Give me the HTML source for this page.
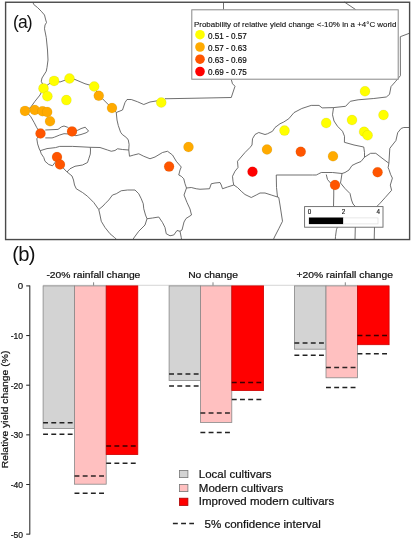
<!DOCTYPE html>
<html><head><meta charset="utf-8"><style>
html,body{margin:0;padding:0;background:#fff;}
body{width:412px;height:540px;overflow:hidden;font-family:"Liberation Sans",sans-serif;}
svg{display:block;}
svg{will-change:transform;}
text{font-family:"Liberation Sans",sans-serif;fill:#111;}
.bt text, text.bt{stroke:#111;stroke-width:0.22px;}
.dash{stroke:#222;stroke-width:1.5;stroke-dasharray:4.9 3.3;}
</style></head><body>
<svg width="412" height="540" viewBox="0 0 412 540">
<!-- map panel (a) -->
<g fill="none" stroke="#555" stroke-width="0.85" stroke-linejoin="round">
<polyline points="33.00,2.50 33.75,4.50 37.50,7.50 41.25,11.25 44.50,15.00 45.75,20.00 46.50,22.50 45.00,25.00 44.50,28.75 46.25,37.50 47.50,50.00 48.00,60.00 47.00,67.50 46.25,71.25 42.00,78.00 41.25,81.25 43.00,85.00 43.50,88.00 40.00,95.00 35.00,101.25 30.50,107.50 25.00,111.00 28.00,113.50 30.80,116.70 34.20,122.60 36.80,127.70 40.50,133.50 36.80,138.80 37.60,143.90 39.30,149.00 40.20,150.70 41.25,153.75 43.75,157.50 45.00,161.25 48.75,164.50 52.50,165.75 57.00,160.00 60.00,164.50 66.25,171.25 72.00,176.00 73.50,180.00 74.50,185.00 76.25,188.75 82.50,192.50 87.50,196.25 93.75,202.50 98.75,209.50 100.00,215.00 101.25,221.25 105.00,227.50 110.00,233.75 114.50,237.50 116.50,239.30"/>
<polyline points="43.50,88.00 46.00,86.00 54.00,80.50 60.00,82.00 65.50,80.00 69.50,78.25 75.00,79.50 85.00,83.75 89.50,85.00 94.00,86.75 98.75,95.75 102.50,98.75 108.75,105.00 112.00,108.00 116.25,112.50"/>
<polyline points="116.25,112.50 122.50,110.00 125.00,102.50 127.00,99.50 131.25,99.50 137.50,101.75 143.75,104.50 150.00,102.00 157.50,100.75 161.25,102.50 165.00,98.75 193.00,98.25 231.25,97.50 235.00,86.25 232.50,83.75 231.25,79.50"/>
<polyline points="116.25,112.50 117.00,120.00 118.30,125.60 120.60,132.20 122.20,134.40 126.70,137.80 128.30,140.00 129.10,144.40 128.75,150.00"/>
<polyline points="128.75,150.00 122.50,149.50 117.50,148.75 115.00,150.50 111.25,151.25 107.50,150.00 100.00,147.50 90.30,147.30 81.00,146.80 72.50,146.40 59.70,146.40 55.50,147.60 47.00,148.60 40.20,150.70"/>
<polyline points="90.30,147.30 90.50,150.00 90.30,154.10 88.75,158.75 87.50,162.50 82.50,165.00 75.00,166.25 70.00,168.75 67.00,172.00"/>
<polyline points="128.75,150.00 129.50,156.25 133.75,155.00 138.75,153.75 143.75,156.25 150.00,158.75 155.00,157.00 162.50,152.50 167.50,151.25 172.50,155.00 176.25,161.25 181.25,167.00 180.00,170.00 178.75,175.00 181.25,176.25 183.75,178.75 185.00,183.75 186.50,188.00"/>
<polyline points="186.50,188.00 191.25,187.50 196.25,188.75 200.00,189.25 209.50,188.75 211.25,183.75 215.00,183.00 220.00,182.50 221.25,185.00 222.50,188.75 227.50,187.00 233.75,185.00"/>
<polyline points="186.50,188.00 184.00,195.00 187.00,202.50 190.00,209.00 191.50,215.00 186.00,218.50 184.00,222.00 183.00,226.00 182.00,230.00 180.00,231.25"/>
<polyline points="98.75,209.50 103.00,206.00 105.00,203.75 108.75,200.00 112.50,195.00 116.25,193.75 121.25,190.75 127.50,190.00 135.00,190.00 138.75,193.75 141.25,198.75 143.25,203.75 143.75,208.75 145.50,215.00 147.00,218.75 152.50,218.00 158.75,217.00 162.50,222.50 165.00,227.50 166.25,233.75 170.00,235.75 173.75,235.00 177.00,230.50 180.00,231.25 181.25,237.50 181.50,239.30"/>
<polyline points="147.00,218.75 145.00,225.00 138.75,231.25 134.50,237.00 133.00,239.30"/>
<polyline points="233.75,185.00 233.00,181.25 232.50,176.25 235.00,171.25 238.00,167.50 237.50,161.25 242.00,156.00 245.00,152.50 250.00,147.50 252.00,145.00 252.50,138.75 255.00,134.50 258.75,132.50 265.00,134.50 267.50,133.75 272.50,131.25 275.00,127.50 280.00,123.75 283.75,122.00 288.75,118.75 294.00,112.60 301.80,108.50 311.20,105.40 319.00,105.40 322.10,107.90 333.50,107.60 345.60,106.30 350.30,101.30 358.10,99.80 373.80,98.50 386.30,97.00 389.50,94.40 391.00,86.60 395.70,81.30 400.40,75.70 400.30,36.70 409.60,33.20"/>
<polyline points="233.75,185.00 237.50,187.50 241.25,191.25 245.00,194.50 251.25,197.50 256.25,195.00 260.00,193.00 265.00,193.00 271.25,195.00 277.50,197.00"/>
<polyline points="277.50,197.00 276.50,187.50 276.25,175.00 285.00,175.00 312.50,175.00 316.25,175.00 318.75,173.75 321.25,172.50 332.50,172.50 342.00,173.50 345.00,172.50 349.00,170.00 352.00,165.50 356.00,163.50 361.00,161.50 364.50,157.20"/>
<polyline points="364.50,157.20 364.50,152.50 363.75,147.00 354.00,145.00 344.40,142.30 344.50,136.25 342.50,131.25 337.50,126.25 334.00,121.00 332.50,114.80 333.50,107.60"/>
<polyline points="364.50,157.20 370.60,153.30 375.80,153.30 382.00,158.10 388.90,163.30"/>
<polyline points="388.90,163.30 389.80,148.40 392.40,145.00 395.90,140.60 397.70,132.70 401.20,128.40 403.80,127.50 409.60,127.50"/>
<polyline points="388.90,163.30 388.10,167.70 388.90,169.40 390.70,174.70 392.40,178.10 390.30,185.10 391.60,190.30 385.40,197.30 380.20,203.10 376.70,206.60"/>
<polyline points="342.00,173.50 341.00,180.00 340.50,183.00 345.00,188.50 350.00,193.50 351.50,200.00 353.00,204.00 355.50,206.60"/>
<polyline points="326.25,174.50 327.50,179.50 330.50,183.00 333.75,185.50 333.75,195.00 333.50,206.60"/>
<polyline points="277.50,197.00 278.75,197.50 280.00,205.00 282.50,221.25 278.75,228.75 274.50,237.00 273.50,239.30"/>
<polyline points="337.40,227.20 336.40,229.80 335.50,236.40 335.30,239.30"/>
<polyline points="355.30,227.00 355.00,239.30"/>
<polyline points="374.50,227.00 374.20,239.30"/>
<polyline points="344.40,2.00 355.70,9.60"/>
<polyline points="45.30,130.00 58.00,129.40 61.40,126.90 64.00,126.00 67.40,127.20 72.00,131.40 77.60,130.30 81.00,128.60 85.20,127.20 88.60,131.10 86.10,132.80 81.00,134.50 75.90,135.70 69.10,134.00 64.00,133.70 59.70,135.00 54.60,137.10 52.10,137.90 45.30,137.90"/>
<polyline points="223.50,2.00 223.50,9.60"/>
</g>
<g>
<circle cx="43.5" cy="88.4" r="5" fill="#ffff00" stroke="rgba(90,90,0,0.18)" stroke-width="0.5"/>
<circle cx="54.1" cy="80.9" r="5" fill="#ffff00" stroke="rgba(90,90,0,0.18)" stroke-width="0.5"/>
<circle cx="69.5" cy="78.5" r="5" fill="#ffff00" stroke="rgba(90,90,0,0.18)" stroke-width="0.5"/>
<circle cx="47.4" cy="96.2" r="5" fill="#ffff00" stroke="rgba(90,90,0,0.18)" stroke-width="0.5"/>
<circle cx="66.4" cy="100.1" r="5" fill="#ffff00" stroke="rgba(90,90,0,0.18)" stroke-width="0.5"/>
<circle cx="94.2" cy="86.5" r="5" fill="#ffff00" stroke="rgba(90,90,0,0.18)" stroke-width="0.5"/>
<circle cx="161.25" cy="102.5" r="5" fill="#ffff00" stroke="rgba(90,90,0,0.18)" stroke-width="0.5"/>
<circle cx="284.5" cy="130.6" r="5" fill="#ffff00" stroke="rgba(90,90,0,0.18)" stroke-width="0.5"/>
<circle cx="365" cy="91.3" r="5" fill="#ffff00" stroke="rgba(90,90,0,0.18)" stroke-width="0.5"/>
<circle cx="326.2" cy="123" r="5" fill="#ffff00" stroke="rgba(90,90,0,0.18)" stroke-width="0.5"/>
<circle cx="352" cy="120" r="5" fill="#ffff00" stroke="rgba(90,90,0,0.18)" stroke-width="0.5"/>
<circle cx="383.5" cy="115" r="5" fill="#ffff00" stroke="rgba(90,90,0,0.18)" stroke-width="0.5"/>
<circle cx="364.1" cy="131.8" r="5" fill="#ffff00" stroke="rgba(90,90,0,0.18)" stroke-width="0.5"/>
<circle cx="367.6" cy="135.3" r="5" fill="#ffff00" stroke="rgba(90,90,0,0.18)" stroke-width="0.5"/>
<circle cx="98.75" cy="95.75" r="5" fill="#ffaa00" stroke="rgba(90,90,0,0.18)" stroke-width="0.5"/>
<circle cx="112" cy="108" r="5" fill="#ffaa00" stroke="rgba(90,90,0,0.18)" stroke-width="0.5"/>
<circle cx="25" cy="110.9" r="5" fill="#ffaa00" stroke="rgba(90,90,0,0.18)" stroke-width="0.5"/>
<circle cx="34.75" cy="110" r="5" fill="#ffaa00" stroke="rgba(90,90,0,0.18)" stroke-width="0.5"/>
<circle cx="42.5" cy="111.25" r="5" fill="#ffaa00" stroke="rgba(90,90,0,0.18)" stroke-width="0.5"/>
<circle cx="47.2" cy="112" r="5" fill="#ffaa00" stroke="rgba(90,90,0,0.18)" stroke-width="0.5"/>
<circle cx="50" cy="121.3" r="5" fill="#ffaa00" stroke="rgba(90,90,0,0.18)" stroke-width="0.5"/>
<circle cx="188.5" cy="147" r="5" fill="#ffaa00" stroke="rgba(90,90,0,0.18)" stroke-width="0.5"/>
<circle cx="267" cy="149.5" r="5" fill="#ffaa00" stroke="rgba(90,90,0,0.18)" stroke-width="0.5"/>
<circle cx="333" cy="156.25" r="5" fill="#ffaa00" stroke="rgba(90,90,0,0.18)" stroke-width="0.5"/>
<circle cx="40.5" cy="133.5" r="5" fill="#ff5500" stroke="rgba(90,90,0,0.18)" stroke-width="0.5"/>
<circle cx="72" cy="131.4" r="5" fill="#ff5500" stroke="rgba(90,90,0,0.18)" stroke-width="0.5"/>
<circle cx="57" cy="157" r="5" fill="#ff5500" stroke="rgba(90,90,0,0.18)" stroke-width="0.5"/>
<circle cx="60" cy="164.5" r="5" fill="#ff5500" stroke="rgba(90,90,0,0.18)" stroke-width="0.5"/>
<circle cx="169.1" cy="166.6" r="5" fill="#ff5500" stroke="rgba(90,90,0,0.18)" stroke-width="0.5"/>
<circle cx="300.75" cy="151.75" r="5" fill="#ff5500" stroke="rgba(90,90,0,0.18)" stroke-width="0.5"/>
<circle cx="377.6" cy="172.2" r="5" fill="#ff5500" stroke="rgba(90,90,0,0.18)" stroke-width="0.5"/>
<circle cx="335" cy="185" r="5" fill="#ff5500" stroke="rgba(90,90,0,0.18)" stroke-width="0.5"/>
<circle cx="252.5" cy="171.75" r="5" fill="#ff0000" stroke="rgba(90,90,0,0.18)" stroke-width="0.5"/>
</g>
<rect x="5.6" y="2.25" width="404" height="237.3" fill="none" stroke="#4a4a4a" stroke-width="1.4"/>
<text x="13" y="27.6" font-size="17.5" letter-spacing="-0.9" fill="#2a2a2a">(a)</text>
<!-- legend -->
<rect x="191.8" y="9.8" width="206.4" height="69.4" fill="#fff" stroke="#888" stroke-width="1"/>
<text x="194" y="26.8" font-size="7.9" textLength="202.3" lengthAdjust="spacingAndGlyphs" fill="#111" stroke="#111" stroke-width="0.12">Probability of relative yield change &lt;-10% in a +4°C world</text>
<circle cx="200" cy="34.7" r="4.8" fill="#ffff00"/>
<circle cx="200" cy="47" r="4.8" fill="#ffaa00"/>
<circle cx="200" cy="59.2" r="4.8" fill="#ff5500"/>
<circle cx="200" cy="71.5" r="4.8" fill="#ff0000"/>
<g font-size="8.7" fill="#000" stroke="#000" stroke-width="0.18">
<text x="208" y="38.6" textLength="38.8" lengthAdjust="spacingAndGlyphs">0.51 - 0.57</text>
<text x="208" y="50.8" textLength="38.8" lengthAdjust="spacingAndGlyphs">0.57 - 0.63</text>
<text x="208" y="63.0" textLength="38.8" lengthAdjust="spacingAndGlyphs">0.63 - 0.69</text>
<text x="208" y="75.2" textLength="38.8" lengthAdjust="spacingAndGlyphs">0.69 - 0.75</text>
</g>
<!-- scale bar -->
<rect x="304.6" y="206.6" width="78.4" height="20.6" fill="#fff" stroke="#666" stroke-width="0.9"/>
<rect x="308.9" y="217.5" width="34.5" height="6.6" fill="#000"/>
<rect x="343.4" y="217.9" width="34.6" height="6" fill="#fff" stroke="#ddd" stroke-width="0.7"/>
<g font-size="6.3" fill="#000" stroke="#000" stroke-width="0.12" text-anchor="middle">
<text x="309.5" y="213.6">0</text>
<text x="343.5" y="213.6">2</text>
<text x="378.3" y="213.6">4</text>
</g>
<!-- panel (b) -->
<text x="12.3" y="261.2" font-size="20.2" letter-spacing="-0.8" fill="#2a2a2a">(b)</text>
<line x1="43" y1="285.3" x2="389" y2="285.3" stroke="#ccc" stroke-width="0.8"/>
<rect x="43.1" y="285.9" width="31.40" height="142.60" fill="#d3d3d3" stroke="#888" stroke-width="0.8"/>
<rect x="74.5" y="285.9" width="31.70" height="198.30" fill="#ffc0c0" stroke="#888" stroke-width="0.8"/>
<rect x="106.2" y="285.9" width="31.60" height="168.70" fill="#ff0000" stroke="#d00000" stroke-width="0.8"/>
<rect x="169.1" y="285.9" width="31.30" height="94.50" fill="#d3d3d3" stroke="#888" stroke-width="0.8"/>
<rect x="200.4" y="285.9" width="31.40" height="136.50" fill="#ffc0c0" stroke="#888" stroke-width="0.8"/>
<rect x="231.8" y="285.9" width="31.80" height="104.70" fill="#ff0000" stroke="#d00000" stroke-width="0.8"/>
<rect x="294.4" y="285.9" width="31.60" height="63.30" fill="#d3d3d3" stroke="#888" stroke-width="0.8"/>
<rect x="326.0" y="285.9" width="31.50" height="91.90" fill="#ffc0c0" stroke="#888" stroke-width="0.8"/>
<rect x="357.5" y="285.9" width="31.60" height="58.80" fill="#ff0000" stroke="#d00000" stroke-width="0.8"/>
<line x1="43.1" y1="422.8" x2="73.0" y2="422.8" class="dash"/>
<line x1="43.1" y1="434.2" x2="73.0" y2="434.2" class="dash"/>
<line x1="74.5" y1="475.9" x2="104.7" y2="475.9" class="dash" style="stroke:#2e2424"/>
<line x1="74.5" y1="493.3" x2="104.7" y2="493.3" class="dash"/>
<line x1="106.2" y1="446.0" x2="136.3" y2="446.0" class="dash" style="stroke:#3a0000"/>
<line x1="106.2" y1="463.3" x2="136.3" y2="463.3" class="dash"/>
<line x1="169.1" y1="374.1" x2="198.9" y2="374.1" class="dash"/>
<line x1="169.1" y1="386.1" x2="198.9" y2="386.1" class="dash"/>
<line x1="200.4" y1="412.9" x2="230.3" y2="412.9" class="dash" style="stroke:#2e2424"/>
<line x1="200.4" y1="432.6" x2="230.3" y2="432.6" class="dash"/>
<line x1="231.8" y1="382.5" x2="262.1" y2="382.5" class="dash" style="stroke:#3a0000"/>
<line x1="231.8" y1="399.4" x2="262.1" y2="399.4" class="dash"/>
<line x1="294.4" y1="342.9" x2="324.5" y2="342.9" class="dash"/>
<line x1="294.4" y1="355.2" x2="324.5" y2="355.2" class="dash"/>
<line x1="326.0" y1="367.5" x2="356.0" y2="367.5" class="dash" style="stroke:#2e2424"/>
<line x1="326.0" y1="387.5" x2="356.0" y2="387.5" class="dash"/>
<line x1="357.5" y1="335.6" x2="387.6" y2="335.6" class="dash" style="stroke:#3a0000"/>
<line x1="357.5" y1="353.8" x2="387.6" y2="353.8" class="dash"/>
<g stroke="#2a2a2a" stroke-width="1.05">
<line x1="29.8" y1="285.4" x2="29.8" y2="534.6"/>
<line x1="26.2" y1="285.90" x2="29.8" y2="285.90"/><line x1="26.2" y1="335.55" x2="29.8" y2="335.55"/><line x1="26.2" y1="385.20" x2="29.8" y2="385.20"/><line x1="26.2" y1="434.85" x2="29.8" y2="434.85"/><line x1="26.2" y1="484.50" x2="29.8" y2="484.50"/><line x1="26.2" y1="534.15" x2="29.8" y2="534.15"/>
<line x1="93.6" y1="282.3" x2="93.6" y2="285.5" stroke="#777" stroke-width="0.9"/>
<line x1="213" y1="282.3" x2="213" y2="285.5" stroke="#777" stroke-width="0.9"/>
<line x1="345.3" y1="282.3" x2="345.3" y2="285.5" stroke="#777" stroke-width="0.9"/>
</g>
<g font-size="9.7" fill="#111" class="bt"><text x="23.1" y="289.40" text-anchor="end">0</text><text x="23.1" y="339.05" text-anchor="end" textLength="12.4" lengthAdjust="spacingAndGlyphs">-10</text><text x="23.1" y="388.70" text-anchor="end" textLength="12.4" lengthAdjust="spacingAndGlyphs">-20</text><text x="23.1" y="438.35" text-anchor="end" textLength="12.4" lengthAdjust="spacingAndGlyphs">-30</text><text x="23.1" y="488.00" text-anchor="end" textLength="12.4" lengthAdjust="spacingAndGlyphs">-40</text><text x="23.1" y="537.65" text-anchor="end" textLength="12.4" lengthAdjust="spacingAndGlyphs">-50</text></g>
<g font-size="9.5" fill="#111" text-anchor="middle" class="bt">
<text x="93.4" y="277.9" textLength="93.9" lengthAdjust="spacingAndGlyphs">-20% rainfall change</text>
<text x="213.1" y="277.9" textLength="49.8" lengthAdjust="spacingAndGlyphs">No change</text>
<text x="344.8" y="277.9" textLength="96.5" lengthAdjust="spacingAndGlyphs">+20% rainfall change</text>
</g>
<text class="bt" transform="translate(8.0,468.2) rotate(-90)" font-size="9.4" textLength="117.6" lengthAdjust="spacingAndGlyphs" fill="#111">Relative yield change (%)</text>
<!-- chart legend -->
<rect x="179.5" y="470.4" width="8.4" height="7.2" fill="#d3d3d3" stroke="#777" stroke-width="0.8"/>
<rect x="179.5" y="484.4" width="8.4" height="7.2" fill="#ffc0c0" stroke="#777" stroke-width="0.8"/>
<rect x="179.5" y="498.2" width="8.4" height="7.2" fill="#ff0000" stroke="#a00" stroke-width="0.8"/>
<g font-size="11.4" fill="#111" class="bt">
<text x="198.8" y="477.8" textLength="72.8" lengthAdjust="spacingAndGlyphs">Local cultivars</text>
<text x="198.8" y="491.6" textLength="84.4" lengthAdjust="spacingAndGlyphs">Modern cultivars</text>
<text x="198.8" y="505.4" textLength="135.4" lengthAdjust="spacingAndGlyphs">Improved modern cultivars</text>
<text x="204.5" y="527.8" textLength="116.3" lengthAdjust="spacingAndGlyphs">5% confidence interval</text>
</g>
<line x1="172.9" y1="523.4" x2="194" y2="523.4" class="dash"/>
</svg>
</body></html>
